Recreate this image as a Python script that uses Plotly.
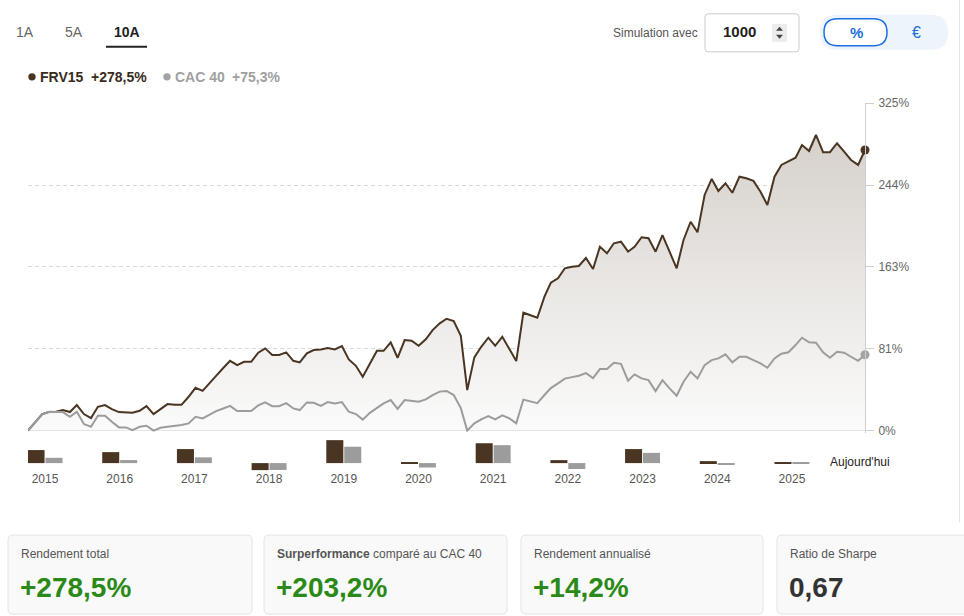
import plotly.graph_objects as go
import pandas as pd

W, H = 964, 616
FONT = "Arial, 'Liberation Sans', sans-serif"

# ---------------- data ----------------
dates = pd.date_range("2015-11-30", periods=121, freq="ME")

frv15 = [0, 8.4, 16.4, 18.4, 18.7, 20.4, 18.4, 25.3, 16.4, 12.4,
         23.6, 25.3, 21.4, 18.4, 17.7, 17.7, 19.7, 24.3, 16.4, 21.4,
         26.3, 25.6, 25.6, 33.6, 42.5, 39.5, 46.9, 54.4, 62.1, 69.3,
         65.0, 68.3, 68.3, 77.3, 81.6, 75.0, 75.0, 77.7, 69.3, 67.7,
         76.7, 79.9, 80.6, 81.9, 80.6, 83.9, 70.7, 64.3, 53.4, 66.7,
         79.2, 79.2, 87.6, 72.3, 89.9, 89.2, 84.2, 90.6, 99.8, 106.5,
         111.0, 108.7, 94.1, 40.2, 72.7, 83.2, 92.2, 84.2, 93.1, 80.9,
         69.0, 117.0, 114.7, 112.0, 132.9, 146.8, 151.1, 161.1, 162.7, 163.4,
         171.3, 160.4, 182.5, 176.0, 185.9, 187.5, 177.6, 182.5, 191.9, 190.9,
         177.6, 194.1, 177.6, 161.1, 189.2, 207.3, 196.8, 233.9, 249.8, 237.8,
         245.5, 236.1, 252.0, 250.4, 247.8, 237.1, 223.9, 252.0, 263.7, 266.9,
         270.9, 283.5, 277.5, 293.4, 276.3, 276.3, 285.2, 276.9, 268.6, 263.7, 278.5]

cac40 = [0, 7.9, 16.1, 18.7, 18.4, 18.4, 13.7, 18.7, 6.5, 3.8,
         14.7, 14.7, 8.7, 3.2, 3.2, 0.5, 3.8, 4.8, 0.0, 2.8,
         3.8, 4.5, 5.5, 7.2, 13.7, 12.1, 16.1, 19.4, 22.0, 24.6,
         19.4, 19.4, 19.4, 25.0, 28.0, 24.3, 24.3, 27.3, 22.0, 20.4,
         28.0, 27.6, 24.6, 28.3, 27.0, 28.3, 18.7, 16.4, 10.9, 17.6,
         22.8, 27.0, 30.3, 21.6, 30.3, 29.6, 28.6, 31.0, 35.3, 38.7,
         39.4, 35.3, 22.3, 0.0, 7.2, 11.1, 14.4, 11.1, 15.1, 12.1,
         7.2, 30.8, 28.8, 27.3, 35.3, 42.2, 46.9, 51.6, 53.1, 54.4,
         57.1, 52.1, 61.1, 61.1, 67.3, 66.3, 49.5, 55.8, 51.8, 50.1,
         39.2, 50.1, 41.9, 34.6, 48.5, 58.4, 51.8, 65.0, 70.0, 71.7,
         75.7, 67.7, 73.3, 73.3, 70.0, 66.7, 62.4, 71.7, 76.3, 77.7,
         84.9, 92.2, 87.6, 87.2, 77.7, 72.3, 78.3, 77.3, 73.3, 69.3, 75.3]

years = ["2015", "2016", "2017", "2018", "2019", "2020",
         "2021", "2022", "2023", "2024", "2025"]
frv15_annual = [21.0, 17.7, 22.6, -11.3, 37.0, 1.5, 32.0, 4.8, 22.6, 3.2, 1.6]
cac40_annual = [8.5, 4.9, 9.3, -11.0, 26.4, -7.1, 28.9, -9.5, 16.5, -2.2, 1.5]

y_tickvals = [0, 81.25, 162.5, 243.75, 325]
y_ticktext = ["0%", "81%", "163%", "244%", "325%"]

period_tabs = ["1A", "5A", "10A"]
series_names = ["FRV15", "CAC 40"]
card_titles = ["Rendement total", "<b>Surperformance</b> comparé au CAC 40",
               "Rendement annualisé", "Ratio de Sharpe"]
annualized = 14.2
sharpe = 0.67
simulation_amount = "1000"

# ---------------- helpers ----------------
# observed vertical mapping of the capture: screen_y ~= VS * y + VO
VS, VO = 0.980, 7.2


def px(x):
    return x / W


def py(y):
    return 1 - ((y - VO) / VS) / H


def fr(v, sign=True, dec=1):
    s = f"{v:+.{dec}f}" if sign else f"{v:.{dec}f}"
    return s.replace(".", ",")


def rrect_path(x0, y0, x1, y1, r):
    pts = [
        ("M", [(x0 + r, y0)]), ("L", [(x1 - r, y0)]), ("Q", [(x1, y0), (x1, y0 + r)]),
        ("L", [(x1, y1 - r)]), ("Q", [(x1, y1), (x1 - r, y1)]),
        ("L", [(x0 + r, y1)]), ("Q", [(x0, y1), (x0, y1 - r)]),
        ("L", [(x0, y0 + r)]), ("Q", [(x0, y0), (x0 + r, y0)]),
    ]
    s = ""
    for cmd, ps in pts:
        s += cmd + " " + " ".join(f"{px(a):.6f},{py(b):.6f}" for a, b in ps) + " "
    return s + "Z"


BROWN = "#4a3522"
GREY = "#9c9c9c"

fig = go.Figure()

# main area lines
fig.add_trace(go.Scatter(
    x=dates, y=frv15, mode="lines", name=series_names[0],
    line=dict(color=BROWN, width=2),
    fill="tozeroy",
    fillgradient=dict(type="vertical", colorscale=[[0, "#fcfcfc"], [1, "#d2ccc6"]],
                      start=0, stop=325),
    hoverinfo="skip", showlegend=False))
fig.add_trace(go.Scatter(
    x=dates, y=cac40, mode="lines", name=series_names[1],
    line=dict(color=GREY, width=2), hoverinfo="skip", showlegend=False))
fig.add_trace(go.Scatter(
    x=[dates[-1]], y=[frv15[-1]], mode="markers",
    marker=dict(size=9, color=BROWN), cliponaxis=False, showlegend=False, hoverinfo="skip"))
fig.add_trace(go.Scatter(
    x=[dates[-1]], y=[cac40[-1]], mode="markers",
    marker=dict(size=9, color="#a3a3a3"), cliponaxis=False, showlegend=False, hoverinfo="skip"))

# annual bars
fig.add_trace(go.Bar(x=years, y=frv15_annual, marker=dict(color=BROWN, line=dict(width=0)),
                     xaxis="x2", yaxis="y2", showlegend=False, hoverinfo="skip"))
fig.add_trace(go.Bar(x=years, y=cac40_annual, marker=dict(color=GREY, line=dict(width=0)),
                     xaxis="x2", yaxis="y2", showlegend=False, hoverinfo="skip"))

shapes = []
annotations = []


def text(x, y, t, size=12, color="#555", xanchor="left"):
    annotations.append(dict(x=px(x), y=py(y), xref="paper", yref="paper", text=t,
                            showarrow=False, xanchor=xanchor, yanchor="middle",
                            font=dict(family=FONT, size=size, color=color)))


# tabs
text(14, 32, period_tabs[0], 14, "#666")
text(63, 32, period_tabs[1], 14, "#666")
text(112, 32, f"<b>{period_tabs[2]}</b>", 14, "#222")
shapes.append(dict(type="rect", xref="paper", yref="paper", x0=px(106), x1=px(147),
                   y0=py(48), y1=py(46), fillcolor="#222", line=dict(width=0)))

# legend
shapes.append(dict(type="circle", xref="paper", yref="paper", x0=px(28.3), x1=px(35.7),
                   y0=py(80.7), y1=py(73.3), fillcolor=BROWN, line=dict(width=0)))
text(38, 77, f"<b>{series_names[0]}</b>", 14, "#3a2a1c")
text(89, 77, f"<b>{fr(frv15[-1])}%</b>", 14, "#3a2a1c")
shapes.append(dict(type="circle", xref="paper", yref="paper", x0=px(163.3), x1=px(170.7),
                   y0=py(80.7), y1=py(73.3), fillcolor="#a3a3a3", line=dict(width=0)))
text(173, 77, f"<b>{series_names[1]}</b>", 14, "#a0a0a0")
text(230, 77, f"<b>{fr(cac40[-1])}%</b>", 14, "#a0a0a0")

# simulation input
text(611, 33, "Simulation avec", 12, "#555")
shapes.append(dict(type="path", xref="paper", yref="paper", path=rrect_path(705, 14, 799, 52, 3),
                   fillcolor="white", line=dict(color="#cccccc", width=1)))
text(721, 32, f"<b>{simulation_amount}</b>", 15, "#222")
shapes.append(dict(type="rect", xref="paper", yref="paper", x0=px(772), x1=px(787),
                   y0=py(42), y1=py(24), fillcolor="#ececec", line=dict(width=0)))
shapes.append(dict(type="path", xref="paper", yref="paper",
                   path=f"M {px(776)},{py(31)} L {px(783)},{py(31)} L {px(779.5)},{py(27)} Z",
                   fillcolor="#444", line=dict(width=0)))
shapes.append(dict(type="path", xref="paper", yref="paper",
                   path=f"M {px(776)},{py(35)} L {px(783)},{py(35)} L {px(779.5)},{py(39)} Z",
                   fillcolor="#444", line=dict(width=0)))

# % / € toggle
shapes.append(dict(type="path", xref="paper", yref="paper", path=rrect_path(820, 15, 948, 50, 17),
                   fillcolor="#eef4fc", line=dict(width=0)))
shapes.append(dict(type="path", xref="paper", yref="paper", path=rrect_path(824, 19, 887, 46, 13.5),
                   fillcolor="white", line=dict(color="#1b6fe0", width=1.5)))
text(856, 33, "<b>%</b>", 15, "#1b6fe0", "center")
text(916, 33, "€", 16, "#1b6fe0", "center")

# right border of chart container
shapes.append(dict(type="line", xref="paper", yref="paper", x0=px(959.5), x1=px(959.5),
                   y0=py(0), y1=py(522), line=dict(color="#e6e6e6", width=1)))

# today label
text(828, 462, "Aujourd'hui", 12, "#222")

# cards
card_x = [(8, 252), (264, 507), (521, 763), (777, 1020)]
card_values = [
    (f"<b>{fr(frv15[-1])}%</b>", "#2b8a17"),
    (f"<b>{fr(frv15[-1] - cac40[-1])}%</b>", "#2b8a17"),
    (f"<b>{fr(annualized)}%</b>", "#2b8a17"),
    (f"<b>{fr(sharpe, sign=False, dec=2)}</b>", "#333333"),
]
for (x0, x1), title, (val, col) in zip(card_x, card_titles, card_values):
    shapes.append(dict(type="path", xref="paper", yref="paper", path=rrect_path(x0, 535, x1, 614, 5),
                       fillcolor="#f9f9f9", line=dict(color="#e4e4e4", width=1)))
    text(x0 + 11, 554, title, 12, "#555")
    text(x0 + 10, 587, val, 28, col)

fig.update_layout(
    width=W, height=H,
    margin=dict(l=0, r=0, t=0, b=0),
    paper_bgcolor="white", plot_bgcolor="rgba(0,0,0,0)",
    font=dict(family=FONT),
    barmode="group", bargap=0.52, bargroupgap=0.05,
    showlegend=False,
    xaxis=dict(domain=[px(28), px(865)], range=[dates[0], dates[-1]],
               showgrid=False, zeroline=False, showline=False, showticklabels=False, ticks=""),
    yaxis=dict(domain=[py(432.6), py(103.3)], range=[-2, 325], side="right", anchor="x",
               tickvals=y_tickvals, ticktext=y_ticktext,
               tickfont=dict(size=12, color="#666", family=FONT),
               ticklabelstandoff=2,
               showline=True, linecolor="#cfcfcf", linewidth=1,
               ticks="outside", ticklen=8, tickcolor="#cfcfcf", tickwidth=1,
               showgrid=True, gridcolor="#d9d9d9", gridwidth=1, griddash="4px,3px",
               zeroline=True, zerolinecolor="#cfcfcf", zerolinewidth=1),
    xaxis2=dict(domain=[px(28), px(865)], anchor="y2", type="category",
                range=[-0.2276, 10.978], showgrid=False, zeroline=False, showline=False,
                ticks="", ticklabelstandoff=-3,
                tickfont=dict(size=12, color="#555", family=FONT)),
    yaxis2=dict(domain=[py(473), py(437)], range=[-16, 42], visible=False),
    shapes=shapes,
    annotations=annotations,
)

fig.write_html("out.html", config={"displayModeBar": False})
